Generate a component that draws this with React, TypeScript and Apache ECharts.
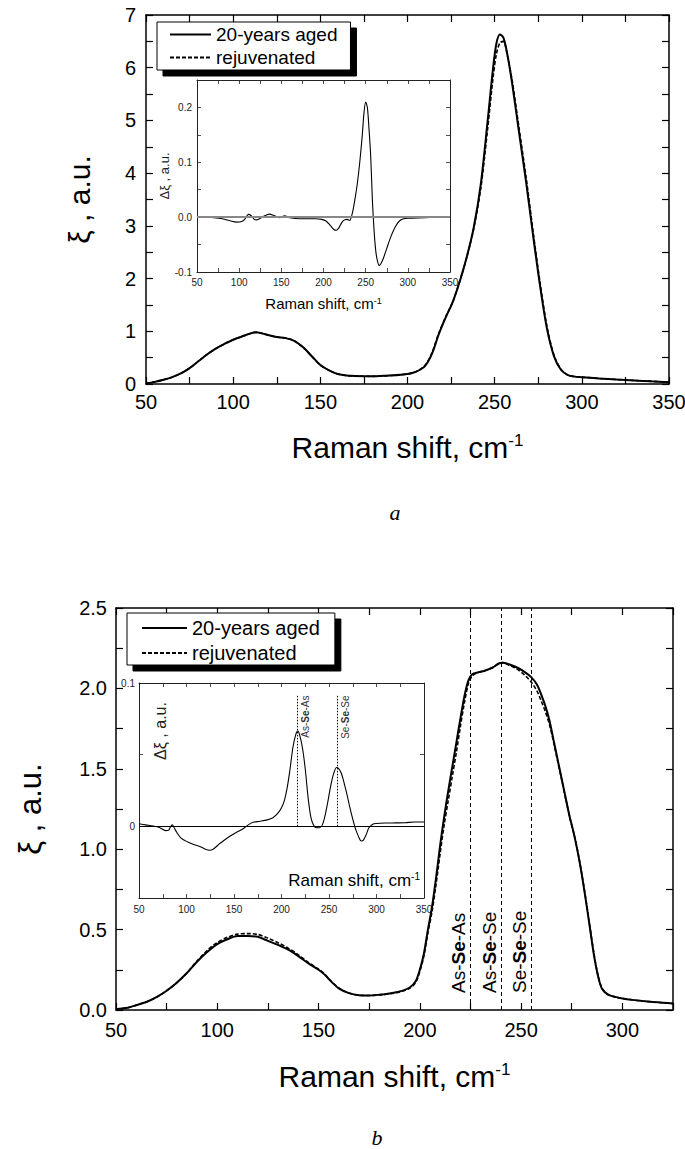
import React, { useEffect, useRef } from 'react';
import * as echarts from 'echarts';

const SERIES_NAMES = ['20-years aged', 'rejuvenated'];

// ---------- Panel a: main spectra ----------
const aShift = [50, 55, 60, 65, 70, 75, 80, 85, 90, 95, 100, 105, 110, 113, 116, 120, 125, 130, 135, 140, 145, 150, 155, 160, 165, 170, 180, 190, 200, 205, 210, 214, 218, 222, 226, 230, 234, 238, 242, 246, 249, 251, 253, 255, 257, 260, 264, 268, 272, 276, 280, 284, 288, 292, 296, 300, 310, 320, 330, 340, 350];
const aAged = [0.01, 0.04, 0.08, 0.13, 0.2, 0.3, 0.43, 0.56, 0.67, 0.76, 0.84, 0.9, 0.96, 0.98, 0.965, 0.93, 0.89, 0.87, 0.82, 0.7, 0.53, 0.36, 0.26, 0.19, 0.16, 0.15, 0.145, 0.16, 0.19, 0.235, 0.34, 0.57, 0.95, 1.27, 1.56, 1.95, 2.41, 2.97, 3.78, 5.0, 5.97, 6.46, 6.63, 6.57, 6.3, 5.71, 4.77, 3.84, 2.83, 1.87, 1.05, 0.53, 0.27, 0.17, 0.14, 0.13, 0.105, 0.085, 0.068, 0.05, 0.035];
const aRejuv = [0.01, 0.04, 0.08, 0.13, 0.2, 0.3, 0.43, 0.56, 0.67, 0.76, 0.84, 0.9, 0.96, 0.98, 0.965, 0.93, 0.89, 0.87, 0.82, 0.7, 0.53, 0.36, 0.26, 0.19, 0.16, 0.15, 0.145, 0.16, 0.19, 0.235, 0.35, 0.59, 0.97, 1.28, 1.565, 1.955, 2.405, 2.95, 3.7, 4.85, 5.79, 6.26, 6.47, 6.5, 6.28, 5.76, 4.85, 3.93, 2.9, 1.93, 1.09, 0.55, 0.28, 0.17, 0.14, 0.13, 0.105, 0.085, 0.068, 0.05, 0.035];

// ---------- Panel a: inset difference ----------
const aDiffShift = [50, 60, 70, 80, 90, 97, 103, 107, 111, 114, 118, 121, 126, 131, 136, 141, 148, 154, 160, 172, 190, 198, 203, 208, 212, 215, 218, 222, 225, 228, 231, 234, 237, 240, 243, 246, 248, 250, 252, 254, 256, 258, 260, 262, 264, 266, 268, 271, 275, 280, 285, 290, 295, 300, 320, 350];
const aDiff = [0.001, 0, -0.001, -0.003, -0.007, -0.009, -0.008, -0.003, 0.005, 0.003, -0.004, -0.005, -0.001, 0.003, 0.0055, 0.003, -0.001, 0.0025, -0.001, -0.003, -0.003, -0.004, -0.007, -0.015, -0.022, -0.024, -0.02, -0.009, -0.005, -0.004, -0.006, 0.006, 0.03, 0.06, 0.1, 0.15, 0.19, 0.21, 0.2, 0.16, 0.11, 0.03, -0.025, -0.062, -0.08, -0.088, -0.085, -0.075, -0.057, -0.035, -0.018, -0.007, -0.003, -0.002, -0.001, 0.001];

// ---------- Panel b: main spectra ----------
const bShift = [50, 55, 60, 65, 70, 75, 80, 85, 90, 95, 100, 105, 110, 115, 120, 125, 130, 135, 140, 145, 150, 153, 156, 160, 165, 170, 175, 180, 185, 190, 195, 198, 200, 202, 204, 206, 208, 210, 212, 214, 216, 218, 220, 222, 224, 226, 229, 232, 236, 239, 241, 244, 248, 252, 255, 258, 260, 262, 264, 266, 268, 270, 272, 274, 276, 278, 280, 282, 284, 286, 288, 290, 293, 297, 300, 305, 310, 315, 320, 325];
const bAged = [0.005, 0.012, 0.03, 0.05, 0.08, 0.12, 0.17, 0.23, 0.3, 0.36, 0.41, 0.44, 0.46, 0.46, 0.455, 0.43, 0.405, 0.375, 0.335, 0.29, 0.25, 0.22, 0.18, 0.135, 0.105, 0.092, 0.09, 0.095, 0.103, 0.115, 0.14, 0.18, 0.25, 0.35, 0.5, 0.64, 0.82, 1.02, 1.2, 1.36, 1.51, 1.66, 1.81, 1.95, 2.05, 2.09, 2.1, 2.11, 2.13, 2.155, 2.16, 2.15, 2.13, 2.1, 2.07, 2.02, 1.96, 1.89, 1.8, 1.68, 1.56, 1.44, 1.32, 1.2, 1.1, 0.98, 0.84, 0.68, 0.51, 0.34, 0.21, 0.13, 0.095, 0.08, 0.072, 0.063, 0.056, 0.05, 0.045, 0.04];
const bRejuv = [0.005, 0.012, 0.03, 0.05, 0.08, 0.12, 0.17, 0.23, 0.305, 0.37, 0.42, 0.452, 0.472, 0.475, 0.47, 0.447, 0.418, 0.385, 0.343, 0.296, 0.254, 0.223, 0.182, 0.137, 0.106, 0.092, 0.09, 0.094, 0.1, 0.112, 0.135, 0.172, 0.24, 0.335, 0.48, 0.61, 0.78, 0.97, 1.15, 1.3, 1.45, 1.6, 1.76, 1.91, 2.03, 2.08, 2.1, 2.11, 2.13, 2.155, 2.16, 2.145, 2.12, 2.08, 2.04, 1.98, 1.92, 1.855, 1.775, 1.67, 1.55, 1.435, 1.315, 1.2, 1.1, 0.985, 0.845, 0.685, 0.515, 0.348, 0.215, 0.135, 0.095, 0.08, 0.072, 0.063, 0.056, 0.05, 0.045, 0.04];

// ---------- Panel b: inset difference ----------
const bDiffShift = [50, 57, 65, 72, 78, 81, 83, 85, 87, 90, 94, 100, 107, 114, 120, 124, 128, 135, 140, 146, 152, 160, 165, 170, 177, 185, 191, 196, 200, 203, 206, 209, 212, 215, 217, 219, 222, 225, 228, 231, 234, 237, 240, 243, 246, 249, 252, 255, 258, 260, 263, 266, 269, 272, 275, 278, 281, 284, 286, 289, 292, 296, 300, 310, 320, 330, 340, 350];
const bDiff = [0.0018, 0.001, 0.0002, -0.001, -0.003, -0.0028, -0.0005, 0.001, -0.001, -0.0045, -0.008, -0.0105, -0.0125, -0.014, -0.016, -0.0167, -0.016, -0.012, -0.0095, -0.0068, -0.0045, -0.0015, 0.001, 0.0028, 0.0035, 0.0045, 0.006, 0.009, 0.013, 0.018, 0.027, 0.04, 0.055, 0.064, 0.0665, 0.064, 0.055, 0.04, 0.02, 0.006, 0.0005, -0.001, -0.001, 0.001, 0.008, 0.018, 0.029, 0.037, 0.041, 0.0405, 0.037, 0.03, 0.022, 0.013, 0.005, -0.002, -0.007, -0.0102, -0.0098, -0.006, -0.001, 0.0015, 0.002, 0.0023, 0.0024, 0.0025, 0.003, 0.003];

// ---------- Bond assignments ----------
const bondLabels = ['As-Se-As', 'As-Se-Se', 'Se-Se-Se'];
const bondShifts = [225, 240, 255];
const insetBondLabels = ['As-Se-As', 'Se-Se-Se'];
const insetBondShifts = [217, 259];
const insetBondTop = 0.092;

const FONT = '"Liberation Sans", Arial, Helvetica, sans-serif';
const SERIF = '"Liberation Serif", "Times New Roman", serif';

const pairs = (xs: number[], ys: number[]) => xs.map((x, i) => [x, ys[i]]);
const isMult = (v: number, s: number) => Math.abs(v / s - Math.round(v / s)) < 1e-6;
const boldMiddle = (name: string) => name.replace(/^(\w+)-(\w+)-(\w+)$/, '$1-{b|$2}-$3');

function makeAxis(
  dim: 'x' | 'y',
  gridIndex: number,
  min: number,
  max: number,
  interval: number,
  main: boolean,
  label: any,
  extra: any = {}
) {
  const color = main ? '#000' : '#222';
  const base = {
    type: 'value',
    gridIndex,
    min,
    max,
    interval,
    axisLine: { show: true, onZero: false, lineStyle: { color, width: main ? 1.5 : 1 } },
    axisTick: { show: true, inside: true, length: main ? 7 : 4, lineStyle: { color, width: main ? 1.2 : 0.8 } },
    splitLine: { show: false },
    minorTick: { show: false },
  };
  const primary = {
    ...base,
    position: dim === 'x' ? 'bottom' : 'left',
    axisLabel: label,
    ...extra,
  };
  const secondary = {
    ...base,
    position: dim === 'x' ? 'top' : 'right',
    axisLabel: { show: false },
  };
  return [primary, secondary];
}

const supRich = (size: number) => ({
  sup: { fontSize: size, verticalAlign: 'top', fontFamily: FONT, color: '#000' },
});

function buildOption() {
  const mainLabel = (formatter: any, margin: number) => ({
    show: true,
    formatter,
    fontSize: 20,
    color: '#000',
    fontFamily: FONT,
    margin,
  });
  const insetLabel = (formatter: any, margin: number) => ({
    show: true,
    formatter,
    fontSize: 10,
    color: '#222',
    fontFamily: FONT,
    margin,
  });
  const step50 = (v: number) => (isMult(v, 50) ? String(Math.round(v)) : '');

  const xAxes = [
    ...makeAxis('x', 0, 50, 350, 25, true, mainLabel(step50, 8), {
      name: 'Raman shift, cm{sup|-1}',
      nameLocation: 'middle',
      nameGap: 48,
      nameTextStyle: { fontSize: 30, color: '#000', fontFamily: FONT, rich: supRich(17) },
    }),
    ...makeAxis('x', 1, 50, 350, 25, false, insetLabel(step50, 5), {
      name: 'Raman shift, cm{sup|-1}',
      nameLocation: 'middle',
      nameGap: 24,
      nameTextStyle: { fontSize: 15, color: '#000', fontFamily: FONT, rich: supRich(9) },
    }),
    ...makeAxis('x', 2, 50, 325, 25, true, mainLabel(step50, 10), {
      name: 'Raman shift, cm{sup|-1}',
      nameLocation: 'middle',
      nameGap: 51,
      nameTextStyle: { fontSize: 30, color: '#000', fontFamily: FONT, rich: supRich(17) },
    }),
    ...makeAxis('x', 3, 50, 350, 25, false, insetLabel(step50, 6)),
  ];

  const yAxes = [
    ...makeAxis('y', 0, 0, 7, 0.5, true, mainLabel((v: number) => (isMult(v, 1) ? String(Math.round(v)) : ''), 10), {
      name: 'ξ , a.u.',
      nameLocation: 'middle',
      nameRotate: 90,
      nameGap: 52,
      nameTextStyle: { fontSize: 30, color: '#000', fontFamily: FONT },
    }),
    ...makeAxis('y', 1, -0.1, 0.25, 0.05, false, insetLabel((v: number) => (isMult(v, 0.1) ? v.toFixed(1) : ''), 5), {
      name: 'Δξ , a.u.',
      nameLocation: 'middle',
      nameRotate: 90,
      nameGap: 19,
      nameTextStyle: { fontSize: 13, color: '#222', fontFamily: FONT },
    }),
    ...makeAxis('y', 2, 0, 2.5, 0.25, true, mainLabel((v: number) => (isMult(v, 0.5) ? v.toFixed(1) : ''), 9), {
      name: 'ξ , a.u.',
      nameLocation: 'middle',
      nameRotate: 90,
      nameGap: 70,
      nameTextStyle: { fontSize: 31, color: '#000', fontFamily: FONT },
    }),
    ...makeAxis('y', 3, -0.05, 0.1, 0.05, false, insetLabel((v: number) => (Math.abs(v) < 1e-9 ? '0' : Math.abs(v - 0.1) < 1e-9 ? '0.1' : ''), 4)),
  ];

  const solid = { color: '#000', width: 2 };
  const dashed = { color: '#000', width: 1.6, type: [4, 2] };

  const legendBase = {
    orient: 'vertical',
    data: SERIES_NAMES,
    selectedMode: false,
    backgroundColor: '#fff',
    borderColor: '#000',
    borderWidth: 1,
    borderRadius: 0,
    shadowColor: '#000',
    shadowBlur: 0,
    shadowOffsetX: 6,
    shadowOffsetY: 6,
    // hide the marker symbol of the line legend icon, keep the line itself
    itemStyle: { color: 'rgba(0,0,0,0)', borderColor: 'rgba(0,0,0,0)', borderWidth: 0 },
  };

  return {
    animation: false,
    backgroundColor: '#fff',
    textStyle: { fontFamily: FONT },
    grid: [
      { left: 146, top: 15, width: 523, height: 369, outerBoundsMode: 'none', containLabel: false },
      { left: 197, top: 80, width: 253, height: 192, show: true, backgroundColor: '#fff', borderWidth: 0, outerBoundsMode: 'none', containLabel: false },
      { left: 116, top: 608, width: 557, height: 402, outerBoundsMode: 'none', containLabel: false },
      { left: 139, top: 683, width: 285, height: 215, show: true, backgroundColor: '#fff', borderWidth: 0, outerBoundsMode: 'none', containLabel: false },
    ],
    xAxis: xAxes,
    yAxis: yAxes,
    legend: [
      {
        ...legendBase,
        left: 157,
        top: 22,
        itemWidth: 41,
        itemHeight: 14,
        itemGap: 4,
        padding: [3, 13, 3, 12],
        textStyle: { fontSize: 19, color: '#000', fontFamily: FONT },
      },
      {
        ...legendBase,
        left: 127,
        top: 613,
        itemWidth: 45,
        itemHeight: 14,
        itemGap: 5,
        padding: [5, 15, 2, 14],
        textStyle: { fontSize: 20, color: '#000', fontFamily: FONT },
      },
    ],
    series: [
      {
        name: SERIES_NAMES[0], type: 'line', xAxisIndex: 0, yAxisIndex: 0,
        data: pairs(aShift, aAged), symbol: 'none', smooth: 0.3, lineStyle: solid, itemStyle: { color: '#000' },
      },
      {
        name: SERIES_NAMES[1], type: 'line', xAxisIndex: 0, yAxisIndex: 0,
        data: pairs(aShift, aRejuv), symbol: 'none', smooth: 0.3, lineStyle: dashed, itemStyle: { color: '#000' },
      },
      {
        name: 'Δξ (a)', type: 'line', xAxisIndex: 2, yAxisIndex: 2,
        data: pairs(aDiffShift, aDiff), symbol: 'none', smooth: 0.3,
        lineStyle: { color: '#000', width: 1.1 }, itemStyle: { color: '#000' },
        markLine: {
          silent: true, symbol: ['none', 'none'], animation: false,
          lineStyle: { color: '#888', width: 2, type: 'solid' },
          label: { show: false },
          data: [{ yAxis: 0 }],
        },
      },
      {
        name: SERIES_NAMES[0], type: 'line', xAxisIndex: 4, yAxisIndex: 4,
        data: pairs(bShift, bAged), symbol: 'none', smooth: 0.3, lineStyle: solid, itemStyle: { color: '#000' },
        markLine: {
          silent: true, symbol: ['none', 'none'], animation: false,
          lineStyle: { color: '#000', width: 1, type: [4, 3] },
          label: {
            show: true,
            position: 'insideStartTop',
            distance: [17, 2],
            formatter: (p: any) => boldMiddle(p.name),
            fontSize: 19,
            color: '#000',
            fontFamily: FONT,
            rich: { b: { fontWeight: 'bold', fontSize: 19, color: '#000', fontFamily: FONT } },
          },
          data: bondShifts.map((x, i) => ({ xAxis: x, name: bondLabels[i] })),
        },
      },
      {
        name: SERIES_NAMES[1], type: 'line', xAxisIndex: 4, yAxisIndex: 4,
        data: pairs(bShift, bRejuv), symbol: 'none', smooth: 0.3, lineStyle: dashed, itemStyle: { color: '#000' },
      },
      {
        name: 'Δξ (b)', type: 'line', xAxisIndex: 6, yAxisIndex: 6,
        data: pairs(bDiffShift, bDiff), symbol: 'none', smooth: 0.3,
        lineStyle: { color: '#000', width: 1.1 }, itemStyle: { color: '#000' },
        markLine: {
          silent: true, symbol: ['none', 'none'], animation: false,
          lineStyle: { color: '#000', width: 1, type: [1.5, 1.5] },
          label: {
            show: true,
            position: 'insideEndBottom',
            distance: [1, 3],
            formatter: (p: any) => boldMiddle(p.name || ''),
            fontSize: 10,
            color: '#333',
            fontFamily: FONT,
            rich: { b: { fontWeight: 'bold', fontSize: 10, color: '#333', fontFamily: FONT } },
          },
          data: [
            { yAxis: 0, name: '', lineStyle: { type: 'solid', color: '#000', width: 1 }, label: { show: false } },
            ...insetBondShifts.map((x, i) => [
              { coord: [x, 0], name: insetBondLabels[i] },
              { coord: [x, insetBondTop] },
            ]),
          ],
        },
      },
    ],
    graphic: [
      {
        type: 'text', x: 395, y: 512,
        style: {
          text: 'a', fontSize: 22, fontStyle: 'italic', fontFamily: SERIF, fill: '#000',
          align: 'center', verticalAlign: 'middle', textAlign: 'center', textVerticalAlign: 'middle',
        },
      },
      {
        type: 'text', x: 377, y: 1137,
        style: {
          text: 'b', fontSize: 22, fontStyle: 'italic', fontFamily: SERIF, fill: '#000',
          align: 'center', verticalAlign: 'middle', textAlign: 'center', textVerticalAlign: 'middle',
        },
      },
      {
        type: 'text', x: 420, y: 880, z: 10,
        style: {
          text: 'Raman shift, cm{sup|-1}', fontSize: 17, fontFamily: FONT, fill: '#000',
          align: 'right', verticalAlign: 'middle', textAlign: 'right', textVerticalAlign: 'middle',
          rich: { sup: { fontSize: 10, verticalAlign: 'top', fontFamily: FONT, fill: '#000', color: '#000' } },
        },
      },
      {
        type: 'text', x: 160, y: 731, rotation: Math.PI / 2, z: 10,
        style: {
          text: 'Δξ , a.u.', fontSize: 16, fontFamily: FONT, fill: '#222',
          align: 'center', verticalAlign: 'middle', textAlign: 'center', textVerticalAlign: 'middle',
        },
      },
    ],
  };
}

export default function App() {
  const ref = useRef<HTMLDivElement>(null);
  useEffect(() => {
    if (!ref.current) return;
    const chart = echarts.init(ref.current, undefined, { renderer: 'svg' });
    chart.setOption(buildOption() as any);
    return () => chart.dispose();
  }, []);
  return (
    <div
      ref={ref}
      style={{ position: 'absolute', left: 0, top: 0, width: 685, height: 1149, background: '#fff' }}
    />
  );
}
